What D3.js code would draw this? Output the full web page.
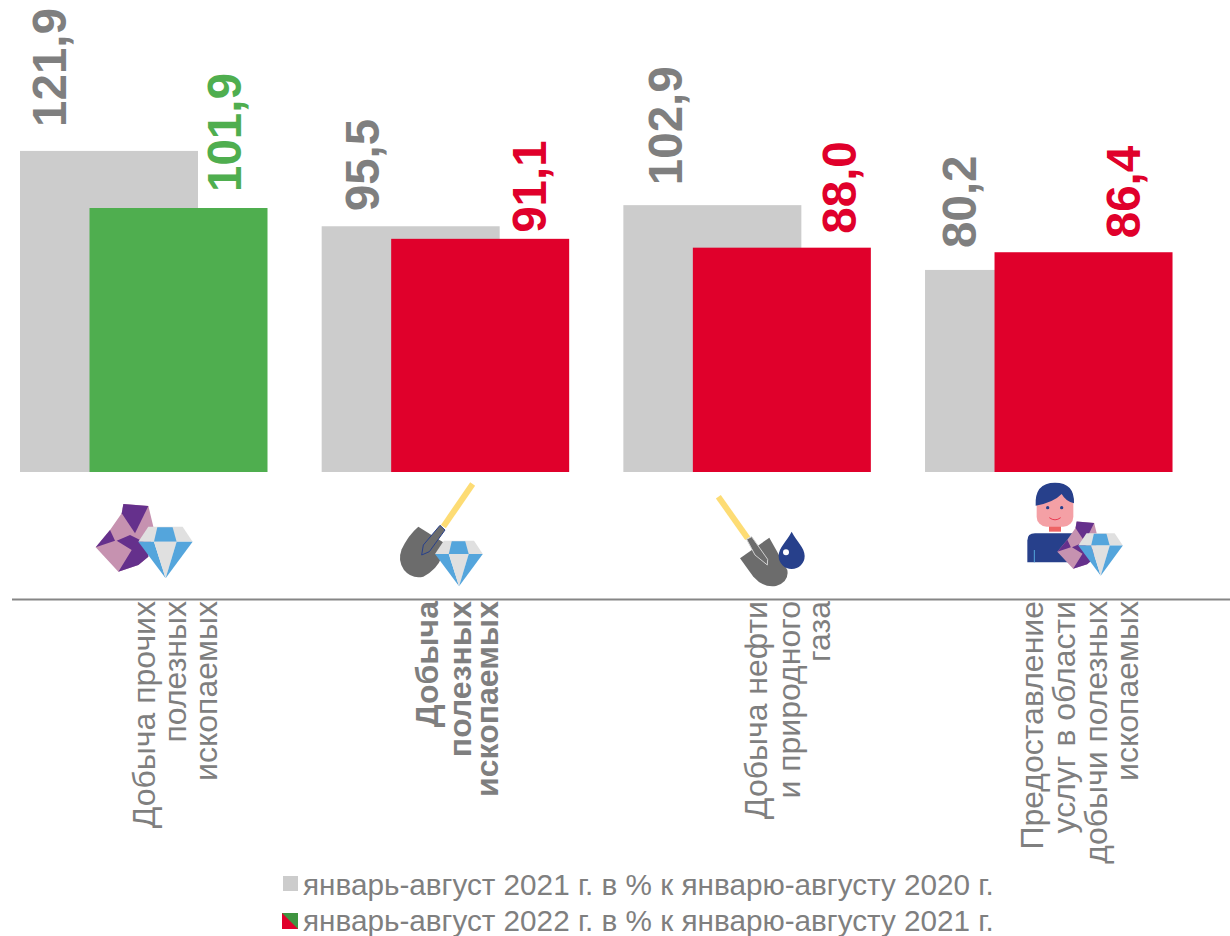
<!DOCTYPE html>
<html><head><meta charset="utf-8">
<script src="https://cdn.jsdelivr.net/npm/d3@7"></script>
<style>html,body{margin:0;padding:0;background:#fff}svg{display:block}text{font-family:"Liberation Sans",Arial,sans-serif}</style>
</head><body><div id="c"></div>
<script>
const categories = ["Добыча прочих полезных ископаемых","Добыча полезных ископаемых","Добыча нефти и природного газа","Предоставление услуг в области добычи полезных ископаемых"];
const labelLines = [["Добыча прочих","полезных","ископаемых"],["Добыча","полезных","ископаемых"],["Добыча нефти","и природного","газа"],["Предоставление","услуг в области","добычи полезных","ископаемых"]];
const boldCategory = [false,true,false,false];
const values2021 = [121.9,95.5,102.9,80.2];
const values2022 = [101.9,91.1,88.0,86.4];
const barColors2022 = ["#4fae4f","#e0002b","#e0002b","#e0002b"];
const legendLabels = ["январь-август 2021 г. в % к январю-августу 2020 г.","январь-август 2022 г. в % к январю-августу 2021 г."];

const W=1230,H=936,TEXT="#7f7f7f",GRAY="#cccccc";
const svg=d3.select("#c").append("svg").attr("width",W).attr("height",H);
const x=d3.scaleBand().domain(categories).range([20,1226.7]);
const y=d3.scaleLinear().domain([9.4,130]).range([472,472-120.6*2.854]);
const barW=178, shift=69.5;
const fmt=v=>v.toFixed(1).replace(".",",");

// bars
svg.append("g").selectAll("rect").data(categories).join("rect")
  .attr("x",d=>x(d)).attr("width",barW)
  .attr("y",(d,i)=>y(values2021[i])).attr("height",(d,i)=>y.range()[0]-y(values2021[i])).attr("fill",GRAY);
svg.append("g").selectAll("rect").data(categories).join("rect")
  .attr("x",d=>x(d)+shift).attr("width",barW)
  .attr("y",(d,i)=>y(values2022[i])).attr("height",(d,i)=>y.range()[0]-y(values2022[i])).attr("fill",(d,i)=>barColors2022[i]);

// value labels
const gapA=[24,15,20,22], gapB=[16,6,14,14], dxA=[46,57,59,51], dxB=[221,224,233,215];
function vlabel(v,i,gap,dx,col){
  svg.append("text").attr("transform",`translate(${x(categories[i])+dx},${y(v)-gap}) rotate(-90)`)
   .attr("font-size",47.5).attr("font-weight","bold").attr("fill",col).text(fmt(v));
}
values2021.forEach((v,i)=>vlabel(v,i,gapA[i],dxA[i],TEXT));
values2022.forEach((v,i)=>vlabel(v,i,gapB[i],dxB[i],barColors2022[i]));

// axis line
svg.append("line").attr("x1",12).attr("x2",W).attr("y1",599.5).attr("y2",599.5).attr("stroke","#868686").attr("stroke-width",2);

// category labels
const lineX=[[155,186,217],[438,471,498],[767,800,830],[1043,1075,1107,1138]];
labelLines.forEach((ls,i)=>ls.forEach((t,j)=>{
  svg.append("text").attr("transform",`translate(${lineX[i][j]},601) rotate(-90)`)
   .attr("text-anchor","end").attr("font-size",32).attr("fill",TEXT)
   .attr("font-weight",boldCategory[i]?"bold":"normal").text(t);
}));

// icons
const poly=(g,p,f)=>g.append("polygon").attr("points",p).attr("fill",f);
function diamond(tx,ty,s){
  const g=svg.append("g").attr("transform",`translate(${tx},${ty}) scale(${s/3})`);
  poly(g,"30,0 133,0 163,45 0,45","#e0e0e0");
  poly(g,"57,2 103,2 115,45 47,45","#54a5dc");
  poly(g,"0,45 47,45 82,155","#54a5dc");poly(g,"47,45 115,45 82,155","#e0e0e0");poly(g,"115,45 163,45 82,155","#54a5dc");
}
function rock(tx,ty,s){
  const g=svg.append("g").attr("transform",`translate(${tx},${ty}) scale(${s/3})`);
  poly(g,"83,0 158,6 173,68 158,158 128,183 68,203 0,130 43,78 78,28","#c692b0");
  poly(g,"83,0 158,6 118,88 78,28","#65308c");
  poly(g,"103,93 153,118 158,158 128,183 68,203 108,138 63,110","#65308c");
  poly(g,"43,78 58,110 0,130","#65308c");
}
function zoomGroup(ox,oy){return svg.append("g").attr("transform",`translate(${ox},${oy}) scale(${1/3})`);}

// icon 1
rock(95.7,504,1); diamond(138.3,526.7,1);

// icon 2
const s2=zoomGroup(80,470);
s2.append("line").attr("x1",1178).attr("y1",42).attr("x2",1090).attr("y2",170).attr("stroke","#fddc74").attr("stroke-width",18);
s2.append("path").attr("fill","#6c6c6c").attr("d","M1015,170 L1092,218 L1085,262 Q1070,300 1030,320 Q995,328 972,300 Q952,272 965,238 Q985,195 1015,170Z");
s2.append("path").attr("fill","#6c6c6c").attr("stroke","#27408b").attr("stroke-width",3).attr("d","M1080,166 L1095,180 L1048,245 L1025,255 L1030,225Z");
diamond(435,540.7,0.88);

// icon 3
const s3=zoomGroup(700,470);
s3.append("line").attr("x1",55).attr("y1",80).attr("x2",143).attr("y2",205).attr("stroke","#fddc74").attr("stroke-width",18);
s3.append("path").attr("fill","#6c6c6c").attr("d","M120,265 L208,203 L262,300 Q268,335 228,348 Q190,354 160,320Z");
s3.append("path").attr("fill","#6c6c6c").attr("stroke","#d0d0d0").attr("stroke-width",3).attr("d","M140,208 L155,200 L203,268 L202,285 L165,255Z");
s3.append("path").attr("fill","#27408b").attr("d","M275,185 C290,215 314,232 314,258 A39,39 0 0 1 236,258 C236,232 260,215 275,185Z");
s3.append("circle").attr("cx",258).attr("cy",247).attr("r",9).attr("fill","#fff");

// icon 4
const s4=zoomGroup(700,470);
s4.append("path").attr("fill","#27408b").attr("d","M982,277 L982,212 Q982,190 1005,190 L1130,190 L1130,277Z");
s4.append("line").attr("x1",1003).attr("x2",1003).attr("y1",240).attr("y2",277).attr("stroke","#54a5dc").attr("stroke-width",3);
s4.append("rect").attr("x",1047).attr("y",160).attr("width",36).attr("height",25).attr("fill","#ee6464");
s4.append("rect").attr("x",1010).attr("y",60).attr("width",110).attr("height",110).attr("rx",30).attr("fill","#f4a0a5");
s4.append("path").attr("fill","#27408b").attr("d","M1007,107 Q1003,38 1065,38 Q1124,38 1122,100 Q1098,95 1085,72 Q1060,98 1007,107Z");
[1043,1085].forEach(cx=>s4.append("circle").attr("cx",cx).attr("cy",113).attr("r",5).attr("fill","#27408b"));
s4.append("path").attr("fill","none").attr("stroke","#e8384f").attr("stroke-width",3).attr("d","M1048,143 Q1065,156 1082,143");
rock(1057.3,521.5,0.7); diamond(1078.3,533.3,0.82);

// legend
svg.append("rect").attr("x",283).attr("y",876).attr("width",15).attr("height",15).attr("fill",GRAY);
svg.append("rect").attr("x",282).attr("y",913).attr("width",16).attr("height",16).attr("fill","#3f9440");
svg.append("polygon").attr("points","282,913 298,929 282,929").attr("fill","#e0002b");
legendLabels.forEach((t,i)=>svg.append("text").attr("x",303).attr("y",895+i*35.5).attr("font-size",29.7).attr("fill",TEXT).text(t));
</script>
</body></html>
